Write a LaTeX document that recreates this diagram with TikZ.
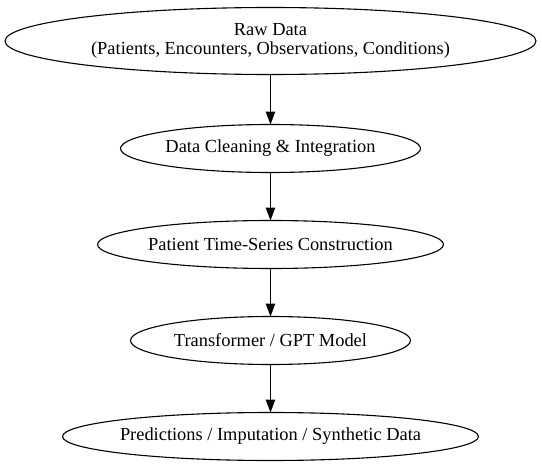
\documentclass[tikz,border=0pt]{standalone}
\usepackage{fontspec}
\setmainfont{Liberation Serif}
\usepackage{tikz}
\usetikzlibrary{positioning,shapes.geometric,arrows.meta}

\begin{document}
\begin{tikzpicture}[x=1pt,y=1pt,
  stage/.style={draw,ellipse,line width=1.1pt,inner sep=0pt,outer sep=0pt,minimum height=48pt,
    align=center,font=\fontsize{18.4}{19.5}\selectfont},
  flow/.style={-{Triangle[length=13pt,width=9.5pt]},line width=1.1pt},
  node distance=48pt]
\useasboundingbox (0,0) rectangle (542,-466);
\node[stage,minimum width=531pt,minimum height=67pt] (raw) at (270.5,-41)
  {Raw Data\\(Patients, Encounters, Observations, Conditions)};
\node[stage,minimum width=300pt,below=50pt of raw] (clean) {Data Cleaning \& Integration};
\node[stage,minimum width=342pt,below=of clean] (series) {Patient Time-Series Construction};
\node[stage,minimum width=280pt,below=of series] (model) {Transformer / GPT Model};
\node[stage,minimum width=416pt,inner xsep=-4pt,below=of model] (output) {Predictions / Imputation / Synthetic Data};
\draw[flow] (raw) -- (clean);
\draw[flow] (clean) -- (series);
\draw[flow] (series) -- (model);
\draw[flow] (model) -- (output);
\end{tikzpicture}
\end{document}
